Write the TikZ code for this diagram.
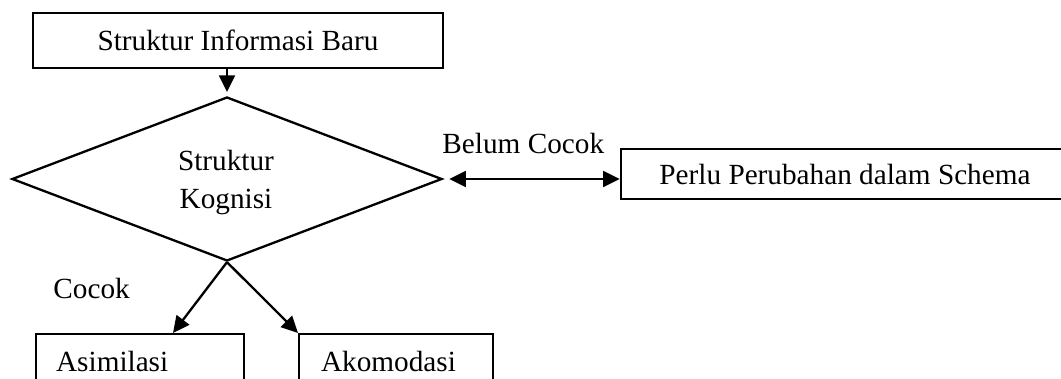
\documentclass[tikz,border=0pt]{standalone}
\usepackage{fontspec}
\setmainfont{Liberation Serif}
\usetikzlibrary{shapes.geometric,arrows.meta}
\tikzset{
  every node/.style={font=\fontsize{12}{15.6}\selectfont, inner sep=0pt},
  box/.style={draw, line width=0.95pt, rectangle},
  leftbox/.style={box, align=left, minimum height=22.2pt, anchor=north west},
  decision/.style={draw, line width=0.95pt, diamond, minimum width=176.5pt, minimum height=67.3pt, inner sep=0pt},
  conn/.style={line width=0.95pt, -{Triangle[length=6.8pt,width=6.5pt]}},
  dconn/.style={line width=0.95pt, {Triangle[length=6.8pt,width=6.5pt]}-{Triangle[length=6.8pt,width=6.5pt]}},
  lbl/.style={anchor=base west}
}
\begin{document}
\begin{tikzpicture}[x=0.4104pt,y=-0.4104pt]
\useasboundingbox (0,0) rectangle (1061,379);
\clip (0,0) rectangle (1061,379);
% boxes
\node[box, minimum width=168.3pt, minimum height=22.6pt] (info) at (238,40.5) {Struktur Informasi Baru};
\node[decision] (dia) at (227,179) {};
\node[align=center] (diatxt) at (226,183) {Struktur\\Kognisi};
\node[box, minimum width=183.9pt, minimum height=20.5pt] (perlu) at (845,174) {Perlu Perubahan dalam Schema};
\node[leftbox, inner xsep=8.2pt, text width=68.9pt] (asim) at (35,333) {Asimilasi};
\node[leftbox, inner xsep=9.0pt, text width=61.6pt] (akom) at (298,333) {Akomodasi};
% labels
\node[lbl] (belum) at (442,154) {Belum Cocok};
\node[lbl] (cocok) at (53,298) {Cocok};
% connectors
\draw[conn, shorten >=1.6pt] (info.south -| dia.north) -- (dia.north);
\draw[dconn, shorten <=2.5pt] (dia.east) -- (dia.east -| perlu.west);
\coordinate (atip) at (173,333);
\draw[conn] (dia.south) -- (atip);
\draw[conn] (dia.south) -- (akom.north west);
\end{tikzpicture}
\end{document}
